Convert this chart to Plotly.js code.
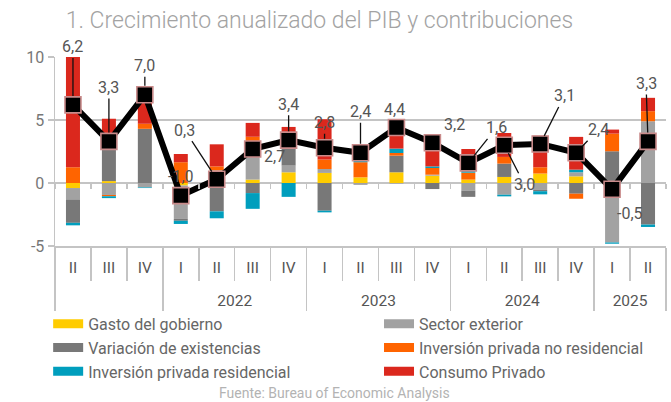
<!DOCTYPE html>
<html>
<head>
<meta charset="utf-8">
<script src="https://cdn.plot.ly/plotly-3.0.1.min.js"></script>
<style>html,body{margin:0;padding:0;background:#fff;}#chart{width:671px;height:402px;}</style>
</head>
<body>
<div id="chart"></div>
<script>
// Categories (two-level axis)
const years    = ["", "", "", "2022", "2022", "2022", "2022", "2023", "2023", "2023", "2023", "2024", "2024", "2024", "2024", "2025", "2025"];
const quarters = ["II", "III", "IV", "I", "II", "III", "IV", "I", "II", "III", "IV", "I", "II", "III", "IV", "I", "II"];

// Contributions (percentage points)
const gasto      = [-0.4, 0.15, 0, -0.2, -0.3, 0.27, 0.85, 0.8, 0.45, 0.85, 0.58, 0.27, 0.48, 0.75, 0.53, 0, 0];
const sectorExt  = [-0.9, -0.95, -0.35, -2.65, 1.0, 2.95, 0.53, 0.31, -0.15, -0.05, 0.08, -0.6, -0.93, -0.55, 0.32, -4.72, 4.9];
const existencias= [-1.86, 2.8, 4.3, -0.15, -1.95, -0.8, 1.5, -2.2, 0, 1.32, -0.48, -0.5, 1.06, -0.1, -0.85, 2.52, -3.3];
const invNoRes   = [1.25, -0.1, 0.4, 1.65, 0.32, 0.45, 0.3, 0.75, 1.2, 0.21, 0.53, 0.55, 0.53, 0.5, -0.4, 1.4, 0.8];
const invRes     = [-0.2, -0.15, -0.05, -0.25, -0.55, -1.25, -1.1, -0.13, 0.1, 0.35, 0.13, 0.45, -0.13, -0.25, 0.21, -0.1, -0.19];
const consumo    = [8.8, 2.15, 2.7, 0.65, 1.75, 1.1, 1.27, 3.2, 0.9, 1.7, 2.3, 1.43, 1.9, 2.5, 2.6, 0.32, 1.06];
// GDP annualized growth
const pib        = [6.2, 3.3, 7.0, -1.0, 0.3, 2.7, 3.4, 2.8, 2.4, 4.4, 3.2, 1.6, 3.0, 3.1, 2.4, -0.5, 3.3];

const seriesNames = ["Gasto del gobierno", "Sector exterior", "Variación de existencias",
                     "Inversión privada no residencial", "Inversión privada residencial", "Consumo Privado"];
const seriesData  = [gasto, sectorExt, existencias, invNoRes, invRes, consumo];
const seriesColors= ["#FFCC00", "#A2A2A2", "#787878", "#FF6400", "#009EBD", "#DB281D"];

// label placement (pixel offsets) for the GDP labels
const labelDX    = [0, 0, 0, 0, -32, 22, 0, 0, 0, -2, 22, 28, 20, 24, 22, 18, -2];
const labelDY    = [-58, -54, -29, -19, -49, 8, -36, -25, -41, -18, -18, -35, 39, -48, -23, 24, -58];
const labelArrow = [true, true, true, false, true, false, true, true, true, false, false, true, true, true, true, false, true];

// Axis categories built from the arrays above. The first (unlabelled) year group gets
// zero-width marks so Plotly keeps I, II, III, IV order inside each year; the blank
// second line gives the quarter row its height.
const axYears = years.map(y => y === "" ? "\u200B" : y);
const axQuarters = quarters.map((q, i) => (years[i] === "" ? q + "\u200B" : q) + "<br> ");
const xcat = [axYears, axQuarters];
const FONT = "Roboto, 'Liberation Sans', sans-serif";

const traces = [];
seriesData.forEach((d, k) => {
  traces.push({
    type: "bar", x: xcat, y: d, name: seriesNames[k],
    marker: {color: seriesColors[k], line: {width: 0}},
    showlegend: false, hoverinfo: "skip"
  });
});
// legend entries (wide colour keys), two columns
seriesData.forEach((d, k) => {
  traces.push({
    type: "scatter", mode: "lines", x: [null], y: [null], xaxis: "x2",
    name: seriesNames[k], line: {color: seriesColors[k], width: 9}, showlegend: true,
    legend: k % 2 === 0 ? "legend" : "legend2"
  });
});
traces.push({
  type: "scatter", mode: "lines+markers", x: xcat, y: pib, name: "PIB",
  line: {color: "#000", width: 6},
  marker: {symbol: "square", size: 16, color: "#000", line: {color: "#C98B8B", width: 1.6}},
  showlegend: false
});

const annotations = pib.map((v, i) => ({
  x: i, y: v, xref: "x", yref: "y",
  text: v.toFixed(1).replace(".", ","),
  showarrow: true, arrowhead: 0, arrowwidth: 1.3,
  arrowcolor: labelArrow[i] ? "#111" : "rgba(0,0,0,0)",
  standoff: 9, ax: labelDX[i], ay: labelDY[i],
  font: {family: FONT, size: 16, color: "#555"}
}));
annotations.push({
  xref: "paper", yref: "paper", x: 0.458, y: -0.78, yanchor: "middle", showarrow: false,
  text: "Fuente: Bureau of Economic Analysis",
  font: {family: FONT, size: 14, color: "#B3B3B3"}
});

const legendBase = {
  orientation: "v", y: -0.322, yanchor: "top", xanchor: "left", itemwidth: 30,
  font: {family: FONT, size: 16, color: "#666"}, tracegroupgap: 0,
  bgcolor: "rgba(0,0,0,0)"
};

const layout = {
  width: 671, height: 402,
  margin: {l: 55, r: 5, t: 57, b: 156},
  paper_bgcolor: "#fff", plot_bgcolor: "#fff",
  barmode: "relative", bargap: 0.61,
  font: {family: FONT, color: "#555"},
  title: {text: "1. Crecimiento anualizado del PIB y contribuciones",
          x: 0.098, xanchor: "left", xref: "container",
          y: 0.95, yanchor: "middle", yref: "container",
          font: {family: FONT, size: 23, color: "#A3A3A3", weight: 300}},
  xaxis: {
    type: "multicategory", range: [-0.5, 16.5],
    showline: true, linecolor: "#C4C4C4", linewidth: 1.5,
    ticks: "outside", ticklen: 33, tickcolor: "#C4C4C4", tickwidth: 1.5, tickson: "boundaries",
    ticklabelstandoff: 7,
    showdividers: true, dividercolor: "#C4C4C4", dividerwidth: 1.5,
    showgrid: false, tickfont: {family: FONT, size: 15.5, color: "#555"}
  },
  xaxis2: {
    overlaying: "x", anchor: "free", position: 1/3, side: "bottom",
    range: [-0.5, 16.5], tickmode: "linear", tick0: -0.5, dtick: 1,
    ticks: "outside", ticklen: 5, tickcolor: "#C4C4C4", tickwidth: 1.5,
    showticklabels: false, showgrid: false, showline: false, zeroline: false
  },
  yaxis: {
    range: [-5, 10], tickvals: [-5, 0, 5, 10], ticktext: ["-5", "0", "5", "10"],
    showgrid: true, gridcolor: "#C4C4C4", gridwidth: 1.5, zeroline: false,
    showline: true, linecolor: "#C4C4C4", linewidth: 1.5,
    ticks: "outside", ticklen: 6, tickcolor: "#C4C4C4", tickwidth: 1.5,
    tickfont: {family: FONT, size: 16, color: "#777"}
  },
  legend: Object.assign({}, legendBase, {x: -0.0112}),
  legend2: Object.assign({}, legendBase, {x: 0.5303}),
  annotations: annotations
};

Plotly.newPlot("chart", traces, layout, {displayModeBar: false, staticPlot: true});
</script>
</body>
</html>
